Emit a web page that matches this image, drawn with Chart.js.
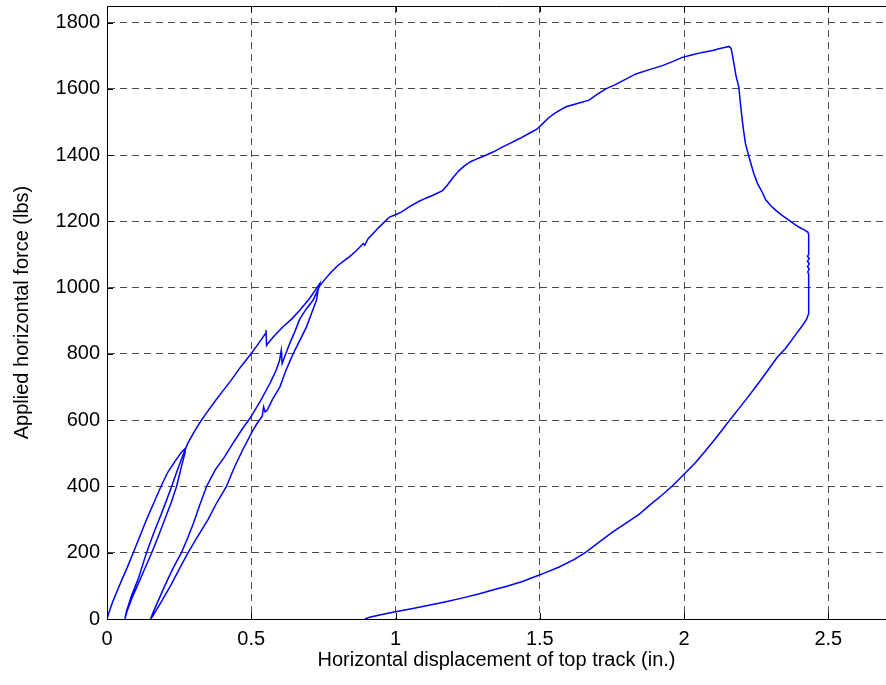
<!DOCTYPE html>
<html>
<head>
<meta charset="utf-8">
<script src="https://cdn.jsdelivr.net/npm/chart.js@4/dist/chart.umd.min.js"></script>
<style>
  html, body { margin: 0; padding: 0; background: #fff; }
  canvas { display: block; }
</style>
</head>
<body>
<canvas id="chart" width="886" height="685"></canvas>
<script>
// Horizontal displacement (in.) and applied force (lbs) in path order
const dispX = [
    // first loading
    0, 0.004, 0.01, 0.022, 0.036, 0.05, 0.07, 0.091, 0.114, 0.137, 0.162, 0.187, 0.21, 0.235, 0.258, 0.272,
    // first unloading
    0.27, 0.258, 0.241, 0.222, 0.2, 0.178, 0.155, 0.13, 0.105, 0.085, 0.07, 0.062,
    // reloading
    0.059, 0.068, 0.085, 0.11, 0.135, 0.16, 0.185, 0.205, 0.224, 0.24, 0.255, 0.268,
    // envelope up to 1000 lbs
    0.28, 0.30, 0.322, 0.345, 0.375, 0.403, 0.43, 0.46, 0.495, 0.52, 0.54, 0.548, 0.551, 0.553, 0.556,
    0.58, 0.61, 0.64, 0.668, 0.70, 0.72, 0.737,
    // second unloading
    0.732, 0.726, 0.71, 0.691, 0.668, 0.645, 0.62, 0.599, 0.575, 0.555, 0.548, 0.543, 0.538, 0.52, 0.506,
    0.488, 0.47, 0.44, 0.414, 0.38, 0.35, 0.315, 0.281, 0.25, 0.22, 0.19, 0.17, 0.158, 0.151,
    // reloading
    0.16, 0.18, 0.2, 0.23, 0.258, 0.28, 0.30, 0.32, 0.345, 0.375, 0.408, 0.44, 0.47, 0.495, 0.53,
    0.564, 0.585, 0.598, 0.604, 0.607, 0.615, 0.633, 0.65, 0.668, 0.69, 0.714, 0.737,
    // main loading to peak
    0.755, 0.775, 0.80, 0.82, 0.84, 0.865, 0.888, 0.893, 0.905, 0.94, 0.96, 0.979, 1.0, 1.02, 1.05,
    1.08, 1.105, 1.128, 1.163, 1.18, 1.2, 1.221, 1.24, 1.26, 1.28, 1.301, 1.34, 1.37, 1.40, 1.43,
    1.464, 1.49, 1.51, 1.53, 1.55, 1.57, 1.591, 1.63, 1.671, 1.70, 1.729, 1.76, 1.80, 1.833, 1.88,
    1.925, 1.96, 1.994, 2.03, 2.063, 2.1, 2.121, 2.14, 2.156, 2.163,
    // post-peak drop
    2.168, 2.173, 2.18, 2.19, 2.195, 2.202, 2.207, 2.213, 2.225, 2.235, 2.242, 2.255, 2.271, 2.283,
    2.3, 2.317, 2.34, 2.363, 2.38, 2.398, 2.415, 2.429,
    // vertical drop
    2.432, 2.432, 2.428, 2.434, 2.428, 2.434, 2.428, 2.434, 2.429, 2.432, 2.432,
    // final unloading
    2.425, 2.41, 2.39, 2.37, 2.35, 2.323, 2.3, 2.275, 2.248, 2.22, 2.19, 2.16, 2.13, 2.1, 2.07,
    2.04, 2.0, 1.96, 1.925, 1.88, 1.844, 1.8, 1.752, 1.7, 1.66, 1.62, 1.567, 1.52, 1.487, 1.44,
    1.383, 1.34, 1.291, 1.23, 1.175, 1.12, 1.06, 1.0, 0.945, 0.91, 0.894
];
const forceY = [
    0, 12, 28, 57, 86, 115, 155, 200, 250, 300, 350, 400, 442, 475, 503, 515,
    500, 460, 400, 350, 300, 250, 200, 150, 100, 60, 25, 0,
    0, 25, 70, 125, 195, 255, 310, 355, 400, 440, 475, 505,
    530, 562, 593, 622, 658, 690, 720, 757, 796, 825, 850, 860, 872, 826, 830,
    855, 882, 905, 932, 965, 990, 1012,
    995, 962, 925, 881, 840, 800, 750, 700, 665, 630, 625, 640, 612, 590, 570,
    540, 510, 455, 400, 350, 300, 250, 200, 150, 100, 55, 25, 8, 0,
    20, 60, 100, 155, 200, 245, 290, 340, 400, 450, 490, 535, 575, 605, 655,
    710, 748, 780, 811, 771, 790, 831, 865, 905, 935, 962, 1005,
    1025, 1045, 1067, 1080, 1093, 1112, 1133, 1128, 1148, 1180, 1197, 1213, 1220, 1228, 1245,
    1260, 1270, 1278, 1293, 1310, 1333, 1354, 1368, 1380, 1388, 1395, 1410, 1424, 1437, 1450,
    1466, 1478, 1495, 1512, 1525, 1536, 1546, 1556, 1566, 1584, 1600, 1612, 1630, 1645, 1658,
    1670, 1682, 1695, 1703, 1710, 1716, 1721, 1725, 1728, 1722,
    1700, 1675, 1640, 1605, 1560, 1504, 1470, 1434, 1395, 1365, 1344, 1314, 1288, 1265,
    1248, 1234, 1218, 1204, 1193, 1183, 1175, 1168,
    1160, 1100, 1095, 1088, 1080, 1072, 1064, 1056, 1048, 1040, 922,
    905, 885, 862, 838, 815, 790, 762, 732, 700, 668, 635, 602, 568, 535, 503,
    472, 437, 402, 375, 343, 316, 290, 262, 228, 202, 180, 157, 140, 129, 113,
    98, 88, 76, 63, 52, 42, 32, 22, 12, 5, 0
];
const xTicks = [0, 0.5, 1, 1.5, 2, 2.5];
const yTicks = [0, 200, 400, 600, 800, 1000, 1200, 1400, 1600, 1800];

const fontFamily = '"Liberation Sans", Arial, Helvetica, sans-serif';
const gridColor = 'rgba(0, 0, 0, 0.7)';

// MATLAB-style inward ticks plus the top frame line
const frameTicks = {
    id: 'frameTicks',
    afterDraw(chart) {
        const { ctx, chartArea, scales } = chart;
        const { left, right, top, bottom } = chartArea;
        ctx.save();
        ctx.strokeStyle = '#000';
        ctx.lineWidth = 1;
        ctx.beginPath();
        ctx.moveTo(left, top + 0.5);
        ctx.lineTo(right, top + 0.5);
        xTicks.forEach(v => {
            const px = Math.round(scales.x.getPixelForValue(v)) + 0.5;
            ctx.moveTo(px, bottom);
            ctx.lineTo(px, bottom - 6);
            ctx.moveTo(px, top);
            ctx.lineTo(px, top + 6);
        });
        yTicks.forEach(v => {
            const py = Math.round(scales.y.getPixelForValue(v)) + 0.5;
            ctx.moveTo(left, py);
            ctx.lineTo(left + 6, py);
        });
        ctx.stroke();
        ctx.restore();
    }
};

const points = dispX.map((x, i) => ({ x: x, y: forceY[i] }));

new Chart(document.getElementById('chart').getContext('2d'), {
    type: 'scatter',
    data: {
        datasets: [{
            data: points,
            showLine: true,
            borderColor: '#0000ff',
            backgroundColor: '#0000ff',
            borderWidth: 1.5,
            pointRadius: 0,
            tension: 0
        }]
    },
    options: {
        responsive: false,
        animation: false,
        layout: { padding: { top: 6, right: 0, bottom: 0, left: 0 } },
        plugins: {
            legend: { display: false },
            tooltip: { enabled: false }
        },
        scales: {
            x: {
                type: 'linear',
                min: 0,
                max: 2.7,
                afterBuildTicks: s => { s.ticks = xTicks.map(v => ({ value: v })); },
                afterFit: s => { s.height = 66; },
                ticks: {
                    color: '#000',
                    font: { size: 20, family: fontFamily },
                    padding: 8,
                    maxRotation: 0,
                    autoSkip: false,
                    callback: v => String(v)
                },
                grid: { color: gridColor, lineWidth: 1, drawTicks: false },
                border: { display: true, color: '#000', width: 1, dash: [7, 5] },
                title: {
                    display: true,
                    text: 'Horizontal displacement of top track (in.)',
                    color: '#000',
                    font: { size: 20, family: fontFamily },
                    padding: { top: 0, bottom: 13 }
                }
            },
            y: {
                type: 'linear',
                min: 0,
                max: 1850,
                afterBuildTicks: s => { s.ticks = yTicks.map(v => ({ value: v })); },
                afterFit: s => {
                    s.width = 107;
                    s.paddingTop = 0;
                    s.paddingBottom = 0;
                },
                ticks: {
                    color: '#000',
                    font: { size: 20, family: fontFamily },
                    padding: 7,
                    autoSkip: false,
                    callback: v => String(v)
                },
                grid: { color: gridColor, lineWidth: 1, drawTicks: false },
                border: { display: true, color: '#000', width: 1, dash: [7, 5] },
                title: {
                    display: true,
                    text: 'Applied horizontal force (lbs)',
                    color: '#000',
                    font: { size: 20, family: fontFamily },
                    padding: { top: 10, bottom: 0 }
                }
            }
        }
    },
    plugins: [frameTicks]
});
</script>
</body>
</html>
